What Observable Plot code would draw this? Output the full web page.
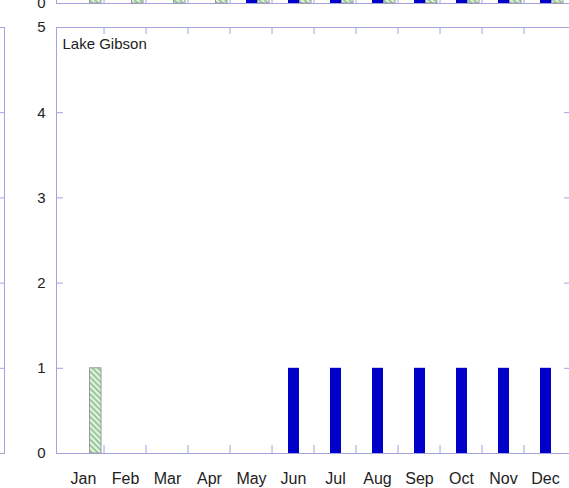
<!DOCTYPE html>
<html>
<head>
<meta charset="utf-8">
<script src="https://cdn.jsdelivr.net/npm/d3@7"></script>
<script src="https://cdn.jsdelivr.net/npm/@observablehq/plot@0.6"></script>
<style>
  html, body { margin: 0; padding: 0; background: #fff; }
  #wrap { position: relative; width: 569px; height: 488px; overflow: hidden; background: #fff; }
  .panel { position: absolute; width: 580px; height: 488px; }
  .panel svg { display: block; overflow: visible; max-width: none !important; width: 580px !important; height: 488px !important; }
</style>
</head>
<body>
<svg width="0" height="0" style="position:absolute">
  <defs>
    <pattern id="hatch" patternUnits="userSpaceOnUse" width="4" height="4" patternTransform="rotate(-45)">
      <rect width="4" height="4" fill="#e4f3e4"></rect>
      <line x1="1" y1="0" x2="1" y2="4" stroke="#78b878" stroke-width="1.4"></line>
    </pattern>
  </defs>
</svg>
<div id="wrap"></div>
<script>
// ---- data ----
const months = ["Jan","Feb","Mar","Apr","May","Jun","Jul","Aug","Sep","Oct","Nov","Dec"];
const yTicks = [0, 1, 2, 3, 4, 5];
const upperVisibleTicks = [0];
const panelTitle = "Lake Gibson";
// Lake Gibson (main panel)
const gibsonBlue    = [0, 0, 0, 0, 0, 1, 1, 1, 1, 1, 1, 1];
const gibsonHatched = [1, 0, 0, 0, 0, 0, 0, 0, 0, 0, 0, 0];
// panel above (only its bottom edge is visible)
const upperBlue     = [0, 0, 0, 0, 1, 1, 1, 1, 1, 1, 1, 1];
const upperHatched  = [1, 1, 1, 1, 1, 1, 1, 1, 1, 1, 1, 1];

// ---- layout ----
const W = 580, H = 488, ML = 56, MR = 9, MT = 27, MB = 35;
const innerW = W - ML - MR, innerH = H - MT - MB;
const bw = innerW / months.length;
const frameColor = "#a3a3e2";
const blue = "#0000c8";
const font = "'Liberation Sans', Arial, sans-serif";

function rows(vals) {
  return months.map((m, i) => ({month: m, value: vals[i]})).filter(d => d.value > 0);
}

function panel({blueVals, hatchVals, title, xLabels, yLabels}) {
  const marks = [
    Plot.frame({stroke: frameColor}),
    // inward ticks between months (bottom and top)
    Plot.ruleX(months.slice(1), {x: d => d, dx: -bw / 2, insetTop: innerH - 8, stroke: frameColor}),
    Plot.ruleX(months.slice(1), {x: d => d, dx: -bw / 2, insetBottom: innerH - 7, stroke: frameColor}),
    // inward y ticks (left and right)
    Plot.ruleY(yTicks, {y: d => d, insetRight: innerW - 7, stroke: frameColor}),
    Plot.ruleY(yTicks, {y: d => d, insetLeft: innerW - 7, stroke: frameColor}),
  ];
  if (blueVals) marks.push(Plot.barY(rows(blueVals), {x: "month", y: "value", fill: blue, insetLeft: 16, insetRight: 15}));
  if (hatchVals) marks.push(Plot.barY(rows(hatchVals), {x: "month", y: "value", fill: "url(#hatch)", stroke: "#9a9a9a", strokeWidth: 1, insetLeft: 27.5, insetRight: 3}));
  if (yLabels) marks.push(Plot.axisY({ticks: yLabels, tickFormat: d => String(d), tickSize: 0, tickPadding: 11, label: null, fontSize: 15, fill: "#222"}));
  if (xLabels) marks.push(Plot.axisX({tickSize: 0, tickPadding: 19, label: null, fontSize: 16, fill: "#222"}));
  if (title) marks.push(Plot.text([title], {frameAnchor: "top-left", dx: 6, dy: 11, fontSize: 15, fill: "#222"}));
  return Plot.plot({
    width: W, height: H,
    marginLeft: ML, marginRight: MR, marginTop: MT, marginBottom: MB,
    style: {fontFamily: font, fontSize: "15px", color: "#222", background: "transparent"},
    x: {type: "band", domain: months, paddingInner: 0, paddingOuter: 0, axis: null},
    y: {domain: [0, 5], axis: null},
    marks
  });
}

const wrap = document.getElementById("wrap");
function place(el, left, top) {
  const d = document.createElement("div");
  d.className = "panel";
  d.style.left = left + "px";
  d.style.top = top + "px";
  d.appendChild(el);
  wrap.appendChild(d);
}

// upper panel: its bottom frame line sits at y = 3
place(panel({blueVals: upperBlue, hatchVals: upperHatched, yLabels: upperVisibleTicks}), 0, 3 - (H - MB));
// left panel: its right frame line sits at x = 4
place(panel({}), 4 - (W - MR), 0);
// main panel
place(panel({blueVals: gibsonBlue, hatchVals: gibsonHatched, title: panelTitle, xLabels: true, yLabels: yTicks}), 0, 0);
</script>
</body>
</html>
